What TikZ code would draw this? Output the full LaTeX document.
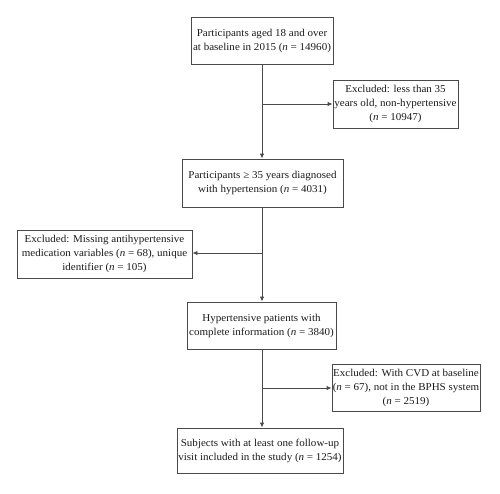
\documentclass[tikz,border=0pt]{standalone}
\usepackage{fontspec}
\setmainfont{Liberation Serif}[FakeStretch=1.05]
\usetikzlibrary{arrows.meta}
\definecolor{linec}{HTML}{4A4A4A}
\definecolor{textc}{HTML}{1A1A1A}
\tikzset{
  box/.style={draw=linec, line width=0.9pt, align=center, inner sep=0pt,
    font=\fontsize{10.5}{14}\selectfont, text=textc},
  conn/.style={draw=linec, line width=0.9pt, -{Latex[length=5pt,width=4.5pt]}},
  plain/.style={draw=linec, line width=0.9pt}
}
\begin{document}
\begin{tikzpicture}[x=1pt,y=1pt]
\useasboundingbox (0,0) rectangle (500,-493);
\node[box, minimum width=142pt, minimum height=47pt] (b1) at (262,-40.5)
  {Participants aged 18 and over\\at baseline in 2015 (\textit{n} = 14960)};
\node[box, minimum width=125pt, minimum height=48pt] (b2) at (395.5,-104)
  {Excluded: less than 35\\years old, non-hypertensive\\(\textit{n} = 10947)};
\node[box, minimum width=161pt, minimum height=48pt] (b3) at (262.5,-183)
  {Participants ≥ 35 years diagnosed\\with hypertension (\textit{n} = 4031)};
\node[box, minimum width=175pt, minimum height=48pt] (b4) at (104.5,-254)
  {Excluded: Missing antihypertensive\\medication variables (\textit{n} = 68), unique\\identifier (\textit{n} = 105)};
\node[box, minimum width=149pt, minimum height=47pt] (b5) at (261.5,-325.5)
  {Hypertensive patients with\\complete information (\textit{n} = 3840)};
\node[box, minimum width=148pt, minimum height=47pt] (b6) at (406,-388)
  {Excluded: With CVD at baseline\\(\textit{n} = 67), not in the BPHS system\\(\textit{n} = 2519)};
\node[box, minimum width=166pt, minimum height=45pt] (b7) at (260,-450.5)
  {Subjects with at least one follow-up\\visit included in the study (\textit{n} = 1254)};
\coordinate (t1) at (262,-64);
\coordinate (t3) at (262,-207);
\coordinate (t5) at (262,-349);
\coordinate (j1) at (262,-104);
\coordinate (j2) at (262,-253);
\coordinate (j3) at (262,-388);
\draw[conn] (t1) -- (t1 |- b3.north);
\draw[conn] (j1) -- (j1 -| b2.west);
\draw[conn] (t3) -- (t3 |- b5.north);
\draw[conn] (j2) -- (j2 -| b4.east);
\draw[conn] (t5) -- (t5 |- b7.north);
\draw[conn] (j3) -- (j3 -| b6.west);
\end{tikzpicture}
\end{document}
